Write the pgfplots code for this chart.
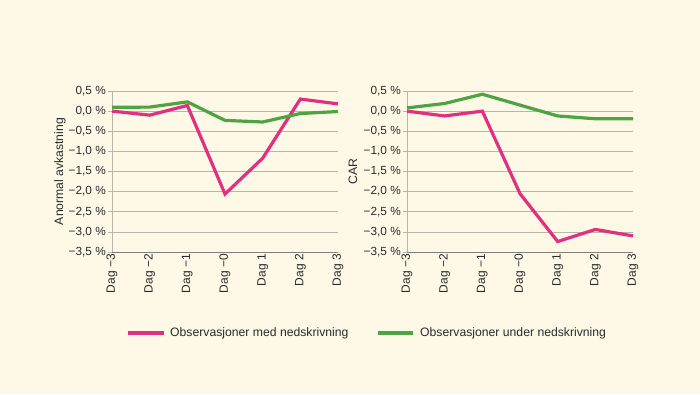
\documentclass[border=0pt]{standalone}
\usepackage{pgfplots}
\pgfplotsset{compat=1.18}
\usepackage{fontspec}
\setmainfont{Liberation Sans}
\definecolor{bg}{HTML}{FEF9E6}
\definecolor{pinkc}{HTML}{E0307F}
\definecolor{greenc}{HTML}{4CA542}
\definecolor{gridc}{HTML}{B8B5AA}
\definecolor{txt}{HTML}{2A2A2A}
\begin{document}
\begin{tikzpicture}
\fill[bg] (0pt,0pt) rectangle (700pt,394pt);
\pgfplotsset{
  myax/.style={
    scale only axis, width=226pt, height=161pt, anchor=south west,
    xmin=0, xmax=6, ymin=-3.5, ymax=0.5,
    xtick={0,...,6},
    xticklabels={Dag −3,Dag −2,Dag −1,Dag −0,Dag 1,Dag 2,Dag 3},
    x tick label style={rotate=90, anchor=east, font=\fontsize{12}{13}\selectfont, text=txt, inner sep=2pt},
    ytick={-3.5,-3,...,0.5},
    yticklabels={{−3,5 \%},{−3,0 \%},{−2,5 \%},{−2,0 \%},{−1,5 \%},{−1,0 \%},{−0,5 \%},{0,0 \%},{0,5 \%}},
    y tick label style={font=\fontsize{11.8}{13}\selectfont, text=txt, inner sep=2pt},
    ymajorgrids, grid style={gridc, line width=0.6pt},
    axis x line*=bottom, axis y line*=left,
    x axis line style={gridc!70!black, line width=0.6pt},
    y axis line style={gridc, line width=0.6pt},
    tick style={gridc, line width=0.6pt},
    major tick length=4pt,
    xtick style={draw=none},
    ytick align=outside,
    ylabel style={font=\fontsize{12.2}{13}\selectfont, text=txt, anchor=center},
    clip=false,
  }
}
\begin{axis}[myax, at={(112pt,142pt)}, ylabel={Anormal avkastning}, ylabel style={at={(axis description cs:-0.23,0.5)}}]
\addplot[pinkc, line width=3.2pt] coordinates {(0,0.0) (1,-0.10) (2,0.14) (3,-2.06) (4,-1.17) (5,0.30) (6,0.18)};
\addplot[greenc, line width=3.2pt] coordinates {(0,0.095) (1,0.10) (2,0.23) (3,-0.23) (4,-0.27) (5,-0.06) (6,-0.01)};
\end{axis}
\begin{axis}[myax, at={(407pt,142pt)}, ylabel={CAR}, ylabel style={at={(axis description cs:-0.239,0.5)}}]
\addplot[greenc, line width=3.2pt] coordinates {(0,0.08) (1,0.19) (2,0.42) (3,0.15) (4,-0.12) (5,-0.19) (6,-0.19)};
\addplot[pinkc, line width=3.2pt] coordinates {(0,0.0) (1,-0.12) (2,0.0) (3,-2.05) (4,-3.24) (5,-2.94) (6,-3.10)};
\end{axis}
\draw[pinkc, line width=3.2pt] (128pt,61pt) -- (164pt,61pt);
\node[anchor=west, text=txt, font=\fontsize{12.2}{14}\selectfont, inner sep=0pt] at (170pt,61pt) {Observasjoner med nedskrivning};
\draw[greenc, line width=3.2pt] (378pt,61pt) -- (413pt,61pt);
\node[anchor=west, text=txt, font=\fontsize{12.2}{14}\selectfont, inner sep=0pt] at (420pt,61pt) {Observasjoner under nedskrivning};
\end{tikzpicture}
\end{document}
